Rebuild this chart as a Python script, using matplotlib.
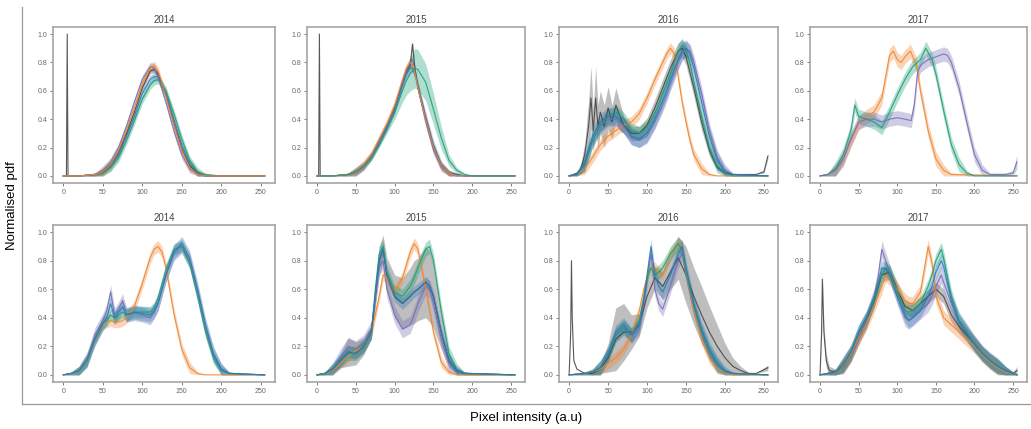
import numpy as np
import matplotlib.pyplot as plt

W, H = 1031, 429

YEARS = ["2014", "2015", "2016", "2017"]
XTICKS = [0, 50, 100, 150, 200, 250]
YTICKS = [0.0, 0.2, 0.4, 0.6, 0.8, 1.0]

BLUE, ORANGE, GREEN, PURPLE, GRAY = "#2f78b4", "#f0862f", "#1b9e77", "#7570b3", "#454545"

# ---- top row, 2014
T14_X = [0, 4, 5, 6, 20, 40, 50, 60, 70, 80, 90, 100, 110, 115, 120, 130, 140, 150, 160, 170, 180, 200, 255]
T14_GRAY = [0, 0, 1.0, 0, 0, 0.01, 0.03, 0.08, 0.17, 0.3, 0.45, 0.62, 0.74, 0.75, 0.72, 0.57, 0.37, 0.19, 0.07, 0.02, 0, 0, 0]
T14_ORANGE = [0, 0, 0, 0, 0, 0.01, 0.03, 0.08, 0.18, 0.32, 0.48, 0.65, 0.76, 0.78, 0.74, 0.56, 0.36, 0.18, 0.06, 0.01, 0, 0, 0]
T14_PURPLE = [0, 0, 0, 0, 0, 0.01, 0.04, 0.1, 0.2, 0.35, 0.52, 0.68, 0.77, 0.76, 0.7, 0.52, 0.32, 0.15, 0.05, 0.01, 0, 0, 0]
T14_GREEN = [0, 0, 0, 0, 0, 0.01, 0.02, 0.06, 0.13, 0.25, 0.39, 0.54, 0.64, 0.67, 0.68, 0.6, 0.44, 0.26, 0.11, 0.03, 0.01, 0, 0]
T14_BLUE = [0, 0, 0, 0, 0, 0.01, 0.02, 0.07, 0.15, 0.28, 0.42, 0.58, 0.68, 0.7, 0.7, 0.58, 0.4, 0.22, 0.09, 0.02, 0, 0, 0]

# ---- top row, 2015
T15_X = [0, 2, 3, 4, 20, 40, 50, 60, 70, 80, 90, 100, 110, 115, 120, 123, 126, 130, 140, 150, 160, 170, 180, 190, 200, 255]
T15_GRAY = [0, 0, 1.0, 0, 0, 0.01, 0.03, 0.07, 0.14, 0.24, 0.35, 0.48, 0.66, 0.74, 0.78, 0.93, 0.76, 0.62, 0.4, 0.2, 0.07, 0.02, 0.01, 0, 0, 0]
T15_ORANGE = [0, 0, 0, 0, 0, 0.01, 0.03, 0.08, 0.15, 0.26, 0.37, 0.5, 0.68, 0.76, 0.8, 0.78, 0.72, 0.62, 0.4, 0.2, 0.07, 0.02, 0, 0, 0, 0]
T15_BLUE = [0, 0, 0, 0, 0, 0.01, 0.03, 0.07, 0.14, 0.24, 0.35, 0.47, 0.64, 0.72, 0.76, 0.76, 0.72, 0.64, 0.42, 0.22, 0.08, 0.02, 0.01, 0, 0, 0]
T15_PURPLE = [0, 0, 0, 0, 0, 0.01, 0.03, 0.07, 0.14, 0.24, 0.35, 0.47, 0.65, 0.74, 0.8, 0.82, 0.75, 0.62, 0.38, 0.18, 0.06, 0.02, 0, 0, 0, 0]
T15_GREEN = [0, 0, 0, 0, 0, 0.01, 0.03, 0.07, 0.13, 0.22, 0.33, 0.45, 0.6, 0.67, 0.72, 0.74, 0.76, 0.75, 0.66, 0.47, 0.27, 0.11, 0.04, 0.01, 0, 0]
T15_GREEN_S = [0, 0, 0, 0, 0, 0, 0.01, 0.01, 0.02, 0.02, 0.03, 0.05, 0.08, 0.1, 0.12, 0.13, 0.14, 0.14, 0.13, 0.11, 0.08, 0.04, 0.02, 0.01, 0, 0]

# ---- top row, 2016
T16_GRAY_X = [0, 10, 15, 20, 25, 28, 31, 34, 37, 40, 45, 50, 55, 60, 65, 70, 80, 90, 100, 110, 120, 130, 140, 145, 150, 160, 170, 180, 190, 200, 210, 220, 240, 250, 255]
T16_GRAY = [0, 0.02, 0.05, 0.15, 0.35, 0.55, 0.32, 0.55, 0.35, 0.45, 0.35, 0.48, 0.38, 0.5, 0.42, 0.36, 0.3, 0.3, 0.36, 0.48, 0.62, 0.76, 0.88, 0.9, 0.84, 0.62, 0.38, 0.18, 0.06, 0.02, 0.01, 0.01, 0.01, 0.03, 0.14]
T16_GRAY_S = [0, 0.01, 0.03, 0.08, 0.18, 0.22, 0.15, 0.22, 0.15, 0.15, 0.15, 0.15, 0.12, 0.12, 0.1, 0.06, 0.05, 0.05, 0.05, 0.06, 0.06, 0.06, 0.06, 0.06, 0.06, 0.06, 0.06, 0.04, 0.02, 0.01, 0, 0, 0, 0.01, 0.02]
T16_X = [0, 10, 20, 30, 40, 50, 60, 70, 80, 90, 100, 110, 120, 125, 130, 135, 140, 145, 150, 155, 160, 170, 180, 190, 200, 210, 255]
T16_BLUE = [0, 0.01, 0.1, 0.28, 0.38, 0.42, 0.42, 0.36, 0.28, 0.26, 0.3, 0.4, 0.53, 0.6, 0.68, 0.75, 0.82, 0.88, 0.9, 0.86, 0.76, 0.52, 0.28, 0.11, 0.03, 0.01, 0]
T16_GREEN = [0, 0.01, 0.08, 0.25, 0.36, 0.42, 0.45, 0.4, 0.32, 0.3, 0.34, 0.44, 0.58, 0.65, 0.72, 0.8, 0.88, 0.92, 0.88, 0.8, 0.66, 0.42, 0.2, 0.07, 0.02, 0, 0]
T16_PURPLE = [0, 0.01, 0.08, 0.25, 0.35, 0.4, 0.4, 0.35, 0.27, 0.25, 0.28, 0.38, 0.5, 0.57, 0.65, 0.72, 0.8, 0.86, 0.9, 0.88, 0.8, 0.58, 0.32, 0.13, 0.04, 0.01, 0]
T16_ORANGE = [0, 0.01, 0.05, 0.13, 0.22, 0.28, 0.32, 0.36, 0.38, 0.44, 0.55, 0.68, 0.8, 0.86, 0.9, 0.86, 0.7, 0.52, 0.38, 0.25, 0.15, 0.05, 0.01, 0, 0, 0, 0]

# ---- top row, 2017
T17_ORANGE_X = [0, 10, 20, 30, 40, 50, 60, 70, 80, 85, 90, 95, 100, 105, 110, 117, 125, 130, 140, 150, 160, 170, 255]
T17_ORANGE = [0, 0.01, 0.04, 0.12, 0.25, 0.37, 0.42, 0.45, 0.55, 0.7, 0.85, 0.88, 0.82, 0.8, 0.84, 0.88, 0.78, 0.6, 0.32, 0.12, 0.04, 0.01, 0]
T17_GREEN_X = [0, 10, 20, 30, 40, 45, 50, 60, 70, 80, 90, 100, 110, 120, 130, 137, 145, 150, 160, 170, 180, 190, 200, 255]
T17_GREEN = [0, 0.01, 0.05, 0.15, 0.32, 0.5, 0.42, 0.4, 0.38, 0.34, 0.45, 0.57, 0.68, 0.77, 0.82, 0.9, 0.82, 0.72, 0.46, 0.22, 0.08, 0.02, 0, 0]
T17_PURPLE_X = [0, 10, 20, 30, 40, 50, 60, 70, 80, 90, 100, 110, 118, 122, 126, 130, 140, 150, 160, 165, 170, 180, 190, 200, 210, 220, 240, 250, 255]
T17_PURPLE = [0, 0.01, 0.04, 0.12, 0.26, 0.38, 0.4, 0.4, 0.38, 0.4, 0.41, 0.4, 0.39, 0.5, 0.72, 0.78, 0.82, 0.84, 0.86, 0.85, 0.8, 0.62, 0.38, 0.15, 0.04, 0.01, 0.01, 0.02, 0.1]

# ---- bottom row, 2014
B14_X = [0, 10, 20, 30, 40, 50, 55, 60, 65, 70, 75, 80, 90, 100, 110, 115, 120, 125, 130, 140, 150, 160, 170, 180, 190, 200, 210, 255]
B14_ORANGE = [0, 0.01, 0.03, 0.1, 0.25, 0.35, 0.37, 0.38, 0.37, 0.37, 0.38, 0.4, 0.48, 0.64, 0.82, 0.88, 0.9, 0.86, 0.75, 0.43, 0.18, 0.05, 0.01, 0, 0, 0, 0, 0]
B14_BLUE = [0, 0.01, 0.03, 0.1, 0.25, 0.36, 0.4, 0.5, 0.4, 0.44, 0.48, 0.42, 0.44, 0.43, 0.42, 0.45, 0.5, 0.6, 0.7, 0.86, 0.92, 0.82, 0.6, 0.35, 0.15, 0.04, 0.01, 0]
B14_PURPLE = [0, 0.01, 0.03, 0.11, 0.28, 0.38, 0.45, 0.58, 0.42, 0.46, 0.52, 0.42, 0.43, 0.42, 0.4, 0.44, 0.5, 0.6, 0.7, 0.85, 0.9, 0.8, 0.58, 0.33, 0.14, 0.04, 0.01, 0]
B14_GREEN = [0, 0.01, 0.03, 0.1, 0.25, 0.36, 0.38, 0.42, 0.4, 0.42, 0.44, 0.42, 0.44, 0.44, 0.44, 0.47, 0.54, 0.64, 0.74, 0.88, 0.9, 0.78, 0.55, 0.3, 0.12, 0.03, 0.01, 0]

# ---- bottom row, 2015
B15_X = [0, 10, 20, 30, 40, 50, 60, 70, 75, 80, 85, 90, 100, 110, 120, 125, 130, 140, 145, 150, 160, 170, 180, 190, 255]
B15_BLUE = [0, 0.01, 0.04, 0.1, 0.16, 0.15, 0.2, 0.3, 0.55, 0.8, 0.88, 0.7, 0.55, 0.5, 0.55, 0.58, 0.6, 0.65, 0.62, 0.55, 0.3, 0.1, 0.03, 0.01, 0]
B15_BLUE_S = [0, 0.01, 0.02, 0.05, 0.1, 0.08, 0.06, 0.05, 0.08, 0.1, 0.1, 0.12, 0.15, 0.18, 0.2, 0.22, 0.22, 0.25, 0.25, 0.22, 0.12, 0.05, 0.02, 0.01, 0]
B15_ORANGE = [0, 0.01, 0.03, 0.08, 0.13, 0.17, 0.2, 0.3, 0.42, 0.55, 0.7, 0.68, 0.58, 0.68, 0.86, 0.92, 0.88, 0.6, 0.45, 0.3, 0.09, 0.02, 0, 0, 0]
B15_PURPLE = [0, 0.01, 0.04, 0.12, 0.2, 0.18, 0.22, 0.32, 0.55, 0.75, 0.8, 0.6, 0.42, 0.32, 0.35, 0.42, 0.5, 0.62, 0.6, 0.5, 0.25, 0.08, 0.02, 0.01, 0]
B15_GREEN = [0, 0.01, 0.04, 0.1, 0.15, 0.15, 0.2, 0.3, 0.6, 0.85, 0.9, 0.72, 0.58, 0.55, 0.62, 0.68, 0.75, 0.88, 0.9, 0.8, 0.45, 0.15, 0.04, 0.01, 0]

# ---- bottom row, 2016
B16_GRAY_X = [0, 2, 3, 4, 6, 10, 20, 30, 40, 50, 60, 70, 80, 90, 100, 110, 120, 130, 140, 150, 160, 170, 180, 190, 200, 210, 220, 230, 240, 255]
B16_GRAY = [0, 0.3, 0.8, 0.4, 0.1, 0.04, 0.01, 0.01, 0.04, 0.12, 0.25, 0.3, 0.3, 0.35, 0.55, 0.68, 0.62, 0.72, 0.82, 0.7, 0.55, 0.42, 0.3, 0.2, 0.12, 0.06, 0.03, 0.01, 0.01, 0.05]
B16_GRAY_S = [0, 0, 0, 0, 0, 0, 0, 0.01, 0.03, 0.1, 0.22, 0.2, 0.12, 0.08, 0.08, 0.08, 0.1, 0.12, 0.15, 0.2, 0.2, 0.2, 0.18, 0.15, 0.1, 0.06, 0.03, 0.01, 0, 0.02]
B16_X = [0, 20, 30, 40, 50, 60, 70, 80, 90, 95, 100, 105, 110, 115, 120, 130, 140, 145, 150, 160, 170, 180, 190, 200, 210, 255]
B16_BLUE = [0, 0.01, 0.02, 0.05, 0.15, 0.3, 0.35, 0.28, 0.35, 0.5, 0.7, 0.9, 0.7, 0.62, 0.58, 0.7, 0.85, 0.9, 0.75, 0.5, 0.32, 0.18, 0.08, 0.03, 0.01, 0]
B16_PURPLE = [0, 0.01, 0.02, 0.05, 0.14, 0.28, 0.33, 0.27, 0.33, 0.48, 0.65, 0.85, 0.6, 0.5, 0.46, 0.62, 0.8, 0.85, 0.7, 0.45, 0.28, 0.15, 0.06, 0.02, 0.01, 0]
B16_GREEN = [0, 0.01, 0.02, 0.05, 0.14, 0.28, 0.33, 0.28, 0.38, 0.52, 0.68, 0.75, 0.7, 0.72, 0.75, 0.85, 0.92, 0.88, 0.72, 0.48, 0.3, 0.16, 0.07, 0.02, 0.01, 0]
B16_ORANGE = [0, 0.01, 0.02, 0.04, 0.08, 0.12, 0.18, 0.28, 0.45, 0.58, 0.68, 0.74, 0.75, 0.72, 0.7, 0.85, 0.92, 0.9, 0.72, 0.45, 0.25, 0.12, 0.05, 0.01, 0, 0]

# ---- bottom row, 2017
B17_GRAY_X = [0, 2, 3, 5, 8, 12, 20, 30, 40, 50, 60, 70, 80, 90, 100, 110, 120, 130, 140, 150, 160, 170, 180, 190, 200, 210, 220, 230, 240, 250, 255]
B17_GRAY = [0, 0.3, 0.67, 0.3, 0.1, 0.03, 0.02, 0.06, 0.14, 0.26, 0.38, 0.52, 0.7, 0.72, 0.6, 0.48, 0.45, 0.5, 0.55, 0.6, 0.55, 0.42, 0.34, 0.28, 0.22, 0.15, 0.1, 0.06, 0.03, 0.01, 0.03]
B17_X = [0, 20, 30, 40, 50, 60, 70, 75, 80, 85, 90, 100, 110, 115, 120, 130, 140, 145, 150, 157, 160, 170, 180, 190, 200, 210, 220, 230, 240, 250, 255]
B17_PURPLE = [0, 0.02, 0.07, 0.15, 0.28, 0.38, 0.55, 0.68, 0.88, 0.8, 0.72, 0.55, 0.4, 0.38, 0.4, 0.45, 0.5, 0.55, 0.62, 0.7, 0.65, 0.5, 0.38, 0.3, 0.22, 0.15, 0.1, 0.06, 0.03, 0.01, 0]
B17_ORANGE = [0, 0.02, 0.06, 0.14, 0.26, 0.36, 0.48, 0.55, 0.62, 0.7, 0.68, 0.6, 0.52, 0.5, 0.5, 0.58, 0.9, 0.78, 0.55, 0.45, 0.4, 0.35, 0.3, 0.25, 0.2, 0.14, 0.09, 0.05, 0.02, 0.01, 0]
B17_GREEN = [0, 0.02, 0.07, 0.16, 0.3, 0.4, 0.52, 0.62, 0.7, 0.75, 0.72, 0.58, 0.45, 0.44, 0.45, 0.5, 0.62, 0.7, 0.8, 0.88, 0.82, 0.55, 0.38, 0.3, 0.22, 0.15, 0.1, 0.06, 0.03, 0.01, 0]
B17_BLUE = [0, 0.02, 0.07, 0.16, 0.3, 0.4, 0.54, 0.64, 0.75, 0.74, 0.7, 0.55, 0.42, 0.38, 0.4, 0.45, 0.55, 0.62, 0.72, 0.8, 0.76, 0.52, 0.37, 0.29, 0.21, 0.15, 0.1, 0.06, 0.03, 0.01, 0]

# (color, x, mean, band half-width) per panel, in drawing order
PANELS = [
    [(GRAY, T14_X, T14_GRAY, 0.02), (BLUE, T14_X, T14_BLUE, 0.03), (GREEN, T14_X, T14_GREEN, 0.03),
     (PURPLE, T14_X, T14_PURPLE, 0.03), (ORANGE, T14_X, T14_ORANGE, 0.03)],
    [(GRAY, T15_X, T15_GRAY, 0.02), (BLUE, T15_X, T15_BLUE, 0.03), (PURPLE, T15_X, T15_PURPLE, 0.03),
     (ORANGE, T15_X, T15_ORANGE, 0.03), (GREEN, T15_X, T15_GREEN, T15_GREEN_S)],
    [(GRAY, T16_GRAY_X, T16_GRAY, T16_GRAY_S), (ORANGE, T16_X, T16_ORANGE, 0.04), (PURPLE, T16_X, T16_PURPLE, 0.05),
     (GREEN, T16_X, T16_GREEN, 0.05), (BLUE, T16_X, T16_BLUE, 0.06)],
    [(ORANGE, T17_ORANGE_X, T17_ORANGE, 0.05), (GREEN, T17_GREEN_X, T17_GREEN, 0.05),
     (PURPLE, T17_PURPLE_X, T17_PURPLE, 0.05)],
    [(ORANGE, B14_X, B14_ORANGE, 0.04), (PURPLE, B14_X, B14_PURPLE, 0.05), (GREEN, B14_X, B14_GREEN, 0.04),
     (BLUE, B14_X, B14_BLUE, 0.05)],
    [(GRAY, B15_X, B15_BLUE, B15_BLUE_S), (PURPLE, B15_X, B15_PURPLE, 0.06), (ORANGE, B15_X, B15_ORANGE, 0.04),
     (GREEN, B15_X, B15_GREEN, 0.05), (BLUE, B15_X, B15_BLUE, 0.04)],
    [(GRAY, B16_GRAY_X, B16_GRAY, B16_GRAY_S), (PURPLE, B16_X, B16_PURPLE, 0.05), (ORANGE, B16_X, B16_ORANGE, 0.04),
     (GREEN, B16_X, B16_GREEN, 0.05), (BLUE, B16_X, B16_BLUE, 0.05)],
    [(GRAY, B17_GRAY_X, B17_GRAY, 0.05), (PURPLE, B17_X, B17_PURPLE, 0.06), (ORANGE, B17_X, B17_ORANGE, 0.05),
     (GREEN, B17_X, B17_GREEN, 0.05), (BLUE, B17_X, B17_BLUE, 0.05)],
]

# panel boxes in pixels: left edges / widths per column, top / bottom per row
COL_LEFT = [53, 307, 559, 810]
COL_WIDTH = [222, 218, 219, 217]
ROW_TOP = [27, 225]
ROW_BOTTOM = [183, 382]

plt.rcParams['font.family'] = ['Liberation Sans', 'DejaVu Sans']

fig = plt.figure(figsize=(W / 100, H / 100), dpi=100)

# outer frame carrying the shared axis labels
outer = fig.add_axes([22 / W, (H - 404) / H, 1 - 22 / W, (404 - 7) / H])
outer.set_xticks([])
outer.set_yticks([])
outer.patch.set_visible(False)
for side in ['top', 'right']:
    outer.spines[side].set_visible(False)
for side in ['left', 'bottom']:
    outer.spines[side].set_color('#9a9a9a')
    outer.spines[side].set_linewidth(0.9)
outer.set_xlabel('Pixel intensity (a.u)', fontsize=9.5, labelpad=6)
outer.set_ylabel('Normalised pdf', fontsize=9.5, labelpad=3)

for i, series in enumerate(PANELS):
    row, col = divmod(i, 4)
    left = COL_LEFT[col] / W
    bottom = (H - ROW_BOTTOM[row]) / H
    ax = fig.add_axes([left, bottom, COL_WIDTH[col] / W, (ROW_BOTTOM[row] - ROW_TOP[row]) / H])
    for color, x, y, s in series:
        y = np.asarray(y, dtype=float)
        s = np.broadcast_to(np.asarray(s, dtype=float), y.shape)
        # band narrows to nothing where the curve sits on zero
        lo = np.clip(y - s, 0, None)
        hi = y + np.minimum(s, y)
        ax.fill_between(x, lo, hi, color=color, alpha=0.35, lw=0)
        ax.plot(x, y, color=color, lw=0.8, alpha=0.9)
    ax.set_xlim(-13, 268)
    ax.set_ylim(-0.05, 1.05)
    ax.set_xticks(XTICKS)
    ax.set_yticks(YTICKS)
    ax.set_yticklabels([f'{v:.1f}' for v in YTICKS])
    ax.tick_params(labelsize=5, colors='#666666', length=2, width=0.6, pad=2)
    for sp in ax.spines.values():
        sp.set_color('#a5a5a5')
        sp.set_linewidth(1.2)
    ax.set_title(YEARS[col], fontsize=7, color='#444444', pad=3)

fig.savefig('out.png', dpi=100)
